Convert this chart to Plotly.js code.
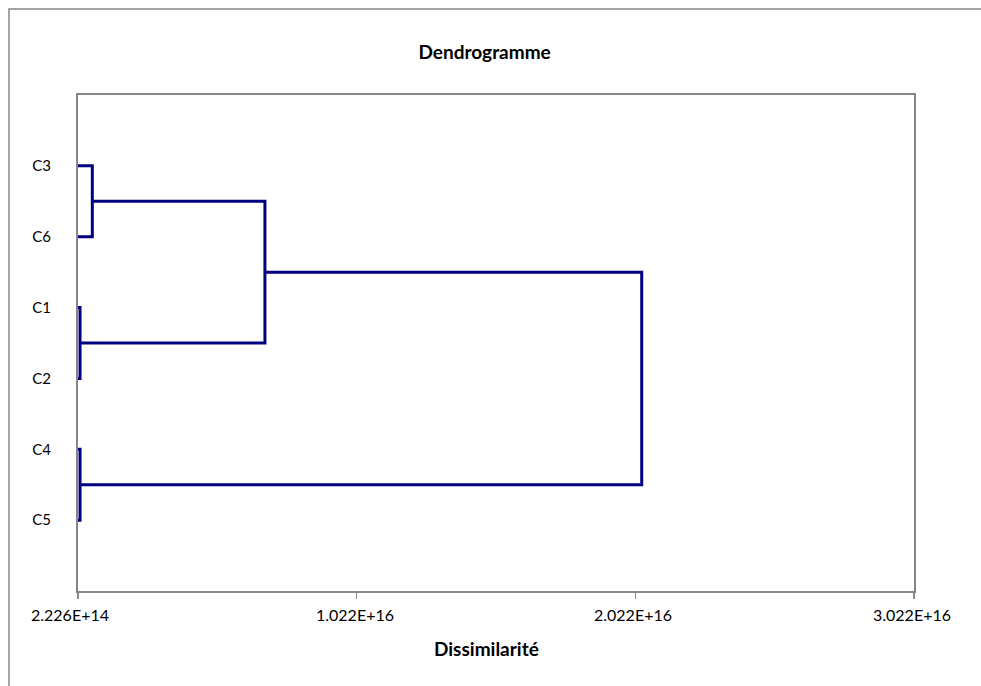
<!DOCTYPE html>
<html>
<head>
<meta charset="utf-8">
<script src="https://cdn.plot.ly/plotly-3.0.1.min.js"></script>
<style>html,body{margin:0;padding:0;background:#fff;}#chart{width:981px;height:686px;}</style>
</head>
<body>
<div id="chart"></div>
<script>
// Leaves in display order (top to bottom)
const leaves = ["C3", "C6", "C1", "C2", "C4", "C5"];
const leafLevel = 2.226e14;
// Merges: [left member, right member, dissimilarity]
const mergeLeft  = ["C3", "C1", "C4", "C3C6", "C3C6C1C2"];
const mergeRight = ["C6", "C2", "C5", "C1C2", "C4C5"];
const mergeHeight = [7.36e14, 2.95e14, 2.95e14, 6.93e15, 2.045e16];
const xTickVals = [2.226e14, 1.022e16, 2.022e16, 3.022e16];
const xTickText = ["2.226E+14", "1.022E+16", "2.022E+16", "3.022E+16"];

// build node positions
const nodePos = {};
const nodeHeight = {};
leaves.forEach((l, i) => { nodePos[l] = i + 1; nodeHeight[l] = leafLevel; });
const xs = [], ys = [];
for (let i = 0; i < mergeLeft.length; i++) {
  const a = mergeLeft[i], b = mergeRight[i], h = mergeHeight[i];
  xs.push(nodeHeight[a], h, h, nodeHeight[b], null);
  ys.push(nodePos[a], nodePos[a], nodePos[b], nodePos[b], null);
  const name = a + b;
  nodePos[name] = (nodePos[a] + nodePos[b]) / 2;
  nodeHeight[name] = h;
}

const trace = {
  x: xs, y: ys, type: "scatter", mode: "lines",
  line: {color: "#000080", width: 3},
  hoverinfo: "skip", showlegend: false, connectgaps: false
};

const fontFam = "Lato, 'Open Sans', sans-serif";

const tickAnnots = xTickVals.map((v, i) => ({
  x: v, xref: "x", y: 0, yref: "paper", yanchor: "middle", yshift: -23,
  xanchor: "center", xshift: i === 0 ? -8 : -2,
  text: xTickText[i], showarrow: false,
  font: {family: fontFam, size: 16, color: "#000"}
}));

const layout = {
  width: 981, height: 686,
  margin: {l: 78, r: 67, t: 95, b: 95},
  paper_bgcolor: "#fff", plot_bgcolor: "#fff",
  font: {family: fontFam, size: 16, color: "#000"},
  title: {text: "<b>Dendrogramme</b>", x: 0.494, xref: "container", xanchor: "center", y: 1 - 52/686, yanchor: "middle",
          font: {family: fontFam, size: 19, color: "#000"}},
  xaxis: {
    range: [xTickVals[0], xTickVals[xTickVals.length - 1]],
    tickvals: xTickVals, showticklabels: false,
    showgrid: false, zeroline: false,
    showline: true, linecolor: "#868686", linewidth: 2, mirror: true,
    ticks: "outside", ticklen: 6, tickwidth: 1.5, tickcolor: "#868686"
  },
  yaxis: {
    range: [7, 0],
    tickvals: leaves.map((l, i) => i + 1), ticktext: leaves,
    showgrid: false, zeroline: false,
    showline: true, linecolor: "#868686", linewidth: 2, mirror: true,
    ticks: "", ticklabelstandoff: 22,
    tickfont: {family: fontFam, size: 15, color: "#000"}
  },
  annotations: tickAnnots.concat([{
    text: "<b>Dissimilarité</b>", xref: "paper", x: (486 - 78) / 836, xanchor: "center",
    yref: "paper", y: 0, yshift: -57, yanchor: "middle", showarrow: false,
    font: {family: fontFam, size: 19, color: "#000"}
  }]),
  shapes: [{
    type: "rect", xref: "paper", yref: "paper",
    x0: (9 - 78) / 836, x1: 1.2, y0: -0.3, y1: (591 - 9) / 496,
    line: {color: "#868686", width: 1.5}, fillcolor: "rgba(0,0,0,0)", layer: "below"
  }]
};

Plotly.newPlot("chart", [trace], layout, {displayModeBar: false, staticPlot: true});
</script>
</body>
</html>
